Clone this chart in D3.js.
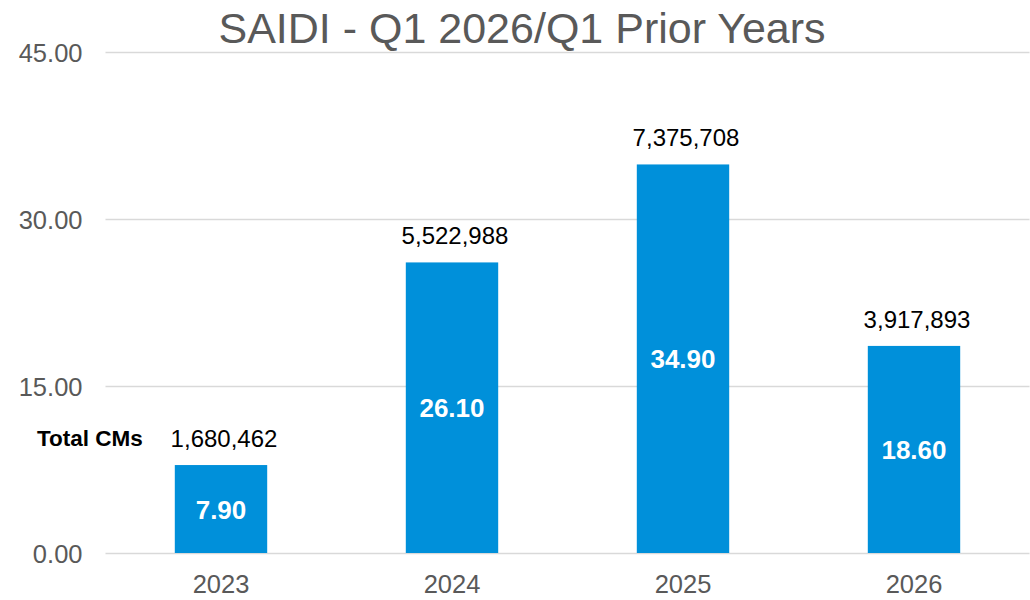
<!DOCTYPE html>
<html>
<head>
<meta charset="utf-8">
<script src="https://cdn.jsdelivr.net/npm/d3@7"></script>
<style>
  html, body { margin: 0; padding: 0; background: #fff; }
  svg { display: block; font-family: Arial, "Liberation Sans", sans-serif; }
</style>
</head>
<body>
<svg id="chart" width="1030" height="600"></svg>
<script>
// Q1 SAIDI by year, with total customer minutes above each bar
const years = ["2023", "2024", "2025", "2026"];
const saidi = [7.90, 26.10, 34.90, 18.60];
const totalCMs = [1680462, 5522988, 7375708, 3917893];
const yTicks = [0, 15, 30, 45];

const svg = d3.select("#chart");
const plot = { left: 105.5, right: 1029.5, top: 52, bottom: 553 };

const x = d3.scaleBand()
  .domain(years)
  .range([plot.left, plot.right])
  .paddingInner(0.6)
  .paddingOuter(0.3);

const y = d3.scaleLinear()
  .domain([0, 45])
  .range([plot.bottom, plot.top]);

// Title
svg.append("text")
  .attr("x", 522)
  .attr("y", 43)
  .attr("text-anchor", "middle")
  .attr("font-size", 43)
  .attr("fill", "#595959")
  .text("SAIDI - Q1 2026/Q1 Prior Years");

// Gridlines and value axis
const yAxis = d3.axisLeft(y)
  .tickValues(yTicks)
  .tickSize(-(plot.right - plot.left))
  .tickPadding(23)
  .tickFormat(d3.format(".2f"));

const gy = svg.append("g")
  .attr("transform", `translate(${plot.left},0)`)
  .call(yAxis);
gy.select(".domain").remove();
gy.selectAll(".tick line").attr("stroke", "#d9d9d9").attr("stroke-width", 1.5);
gy.selectAll(".tick text")
  .attr("font-size", 25.5)
  .attr("dy", "0.36em")
  .attr("fill", "#595959")
  .attr("font-family", "Arial, 'Liberation Sans', sans-serif");

// Category axis
const xAxis = d3.axisBottom(x).tickSize(0).tickPadding(22);
const gx = svg.append("g")
  .attr("transform", `translate(0,${plot.bottom})`)
  .call(xAxis);
gx.select(".domain").remove();
gx.selectAll(".tick text")
  .attr("font-size", 25.5)
  .attr("fill", "#595959")
  .attr("font-family", "Arial, 'Liberation Sans', sans-serif");

// Bars
const data = years.map((yr, i) => ({ year: yr, value: saidi[i], cms: totalCMs[i] }));

svg.append("g").selectAll("rect")
  .data(data)
  .join("rect")
  .attr("x", d => x(d.year))
  .attr("y", d => y(d.value))
  .attr("width", x.bandwidth())
  .attr("height", d => y(0) - y(d.value))
  .attr("fill", "#0090da");

// SAIDI value inside each bar
svg.append("g").selectAll("text")
  .data(data)
  .join("text")
  .attr("x", d => x(d.year) + x.bandwidth() / 2)
  .attr("y", d => (y(d.value) + y(0)) / 2 + 9.5)
  .attr("text-anchor", "middle")
  .attr("font-size", 26)
  .attr("font-weight", "bold")
  .attr("fill", "#ffffff")
  .text(d => d3.format(".2f")(d.value));

// Total customer minutes above each bar
svg.append("g").selectAll("text")
  .data(data)
  .join("text")
  .attr("x", d => x(d.year) + x.bandwidth() / 2 + 3)
  .attr("y", d => y(d.value) - 18)
  .attr("text-anchor", "middle")
  .attr("font-size", 24)
  .attr("fill", "#000000")
  .text(d => d3.format(",")(d.cms));

// Row label for the totals
svg.append("text")
  .attr("x", 37)
  .attr("y", y(saidi[0]) - 19)
  .attr("font-size", 22.5)
  .attr("font-weight", "bold")
  .attr("fill", "#000000")
  .text("Total CMs");
</script>
</body>
</html>
